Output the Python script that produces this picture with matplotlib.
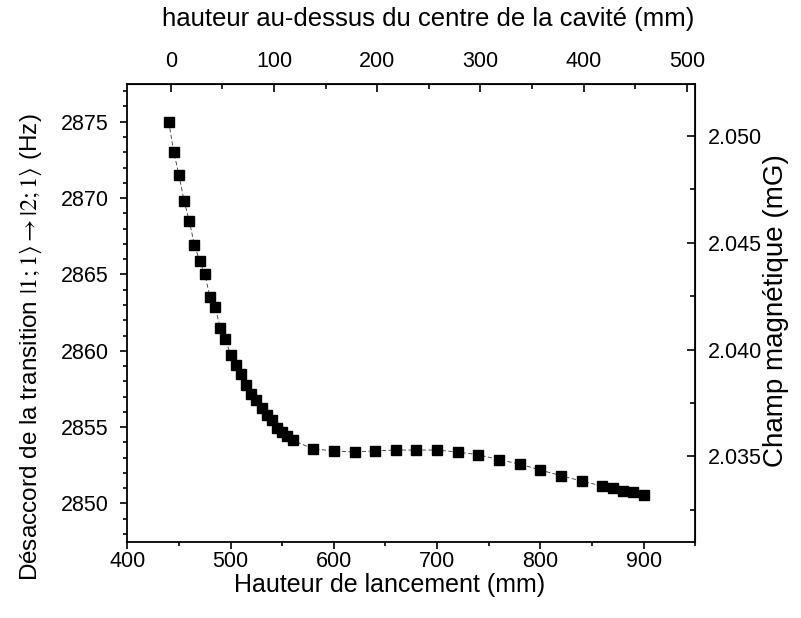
import numpy as np
import matplotlib
matplotlib.use("Agg")
import matplotlib.pyplot as plt
from matplotlib.ticker import MultipleLocator, FormatStrFormatter

plt.rcParams['font.family'] = ['Liberation Sans', 'DejaVu Sans']
plt.rcParams['mathtext.fontset'] = 'stix'

# launch height (mm) and detuning (Hz)
hauteur = [440, 445, 450, 455, 460, 465, 470, 475, 480, 485, 490, 495,
           500, 505, 510, 515, 520, 525, 530, 535, 540, 545, 550, 555, 560,
           580, 600, 620, 640, 660, 680, 700, 720, 740, 760, 780, 800,
           820, 840, 860, 870, 880, 890, 900]
desaccord = [2875.0, 2873.0, 2871.5, 2869.8, 2868.5, 2866.9, 2865.9, 2865.0,
             2863.55, 2862.85, 2861.5, 2860.75,
             2859.7, 2859.1, 2858.5, 2857.75, 2857.2, 2856.8, 2856.25, 2855.8,
             2855.45, 2854.95, 2854.65, 2854.4, 2854.15,
             2853.57, 2853.45, 2853.37, 2853.45, 2853.5, 2853.5, 2853.5,
             2853.37, 2853.19, 2852.87, 2852.58, 2852.19, 2851.82, 2851.47,
             2851.14, 2851.03, 2850.84, 2850.73, 2850.55]

centre_cavite = 442      # mm, offset of the top axis
hz_par_mG = 1399.6       # Zeeman coefficient
hz_offset = 4.9

fig = plt.figure(figsize=(8.01, 6.18), dpi=100)
ax = fig.add_axes([0.159, 0.1235, 0.709, 0.7401])

ax.plot(hauteur, desaccord, linestyle=(0, (5, 3)), color='#333333', linewidth=0.6,
        marker='s', markersize=6.8, markerfacecolor='black', markeredgecolor='black')

ax.set_xlim(400, 950)
ax.set_ylim(2847.5, 2877.45)
ax.xaxis.set_major_locator(MultipleLocator(100))
ax.xaxis.set_minor_locator(MultipleLocator(50))
ax.yaxis.set_major_locator(MultipleLocator(5))
ax.yaxis.set_minor_locator(MultipleLocator(1))
ax.tick_params(axis='both', which='major', direction='out', length=5, width=1.2,
               labelsize=15.5)
ax.tick_params(axis='x', which='major', pad=2)
ax.tick_params(axis='y', which='major', pad=8.5)
ax.tick_params(axis='both', which='minor', direction='out', length=3, width=1.2)
for s in ax.spines.values():
    s.set_linewidth(1.3)

ax.set_xlabel("Hauteur de lancement (mm)", fontsize=18)
ax.xaxis.set_label_coords(0.461, -0.068)
ax.set_ylabel(r"Désaccord de la transition $|1{;}1\rangle \rightarrow |2{;}1\rangle$ (Hz)",
              fontsize=17.5)
ax.yaxis.set_label_coords(-0.146, 0.426)

top = ax.secondary_xaxis('top', functions=(lambda x: x - centre_cavite,
                                           lambda x: x + centre_cavite))
top.xaxis.set_major_locator(MultipleLocator(100))
top.xaxis.set_minor_locator(MultipleLocator(50))
top.tick_params(which='major', direction='in', length=6, width=1.2, labelsize=15.5,
                pad=9)
top.tick_params(which='minor', direction='in', length=3.5, width=1.2)
top.set_xlabel("hauteur au-dessus du centre de la cavité (mm)", fontsize=18.5)
top.xaxis.set_label_coords(0.53, 1.127, transform=ax.transAxes)

right = ax.secondary_yaxis('right', functions=(lambda f: (f - hz_offset) / hz_par_mG,
                                               lambda b: b * hz_par_mG + hz_offset))
right.yaxis.set_major_locator(MultipleLocator(0.005))
right.yaxis.set_minor_locator(MultipleLocator(0.0025))
right.yaxis.set_major_formatter(FormatStrFormatter('%.3f'))
right.tick_params(which='major', direction='in', length=6, width=1.2, labelsize=15.5,
                  pad=9)
right.tick_params(which='minor', direction='in', length=3.5, width=1.2)
right.set_ylabel("Champ magnétique (mG)", fontsize=20)
right.yaxis.set_label_coords(1.12, 0.506, transform=ax.transAxes)

fig.savefig("out.png", dpi=100)
